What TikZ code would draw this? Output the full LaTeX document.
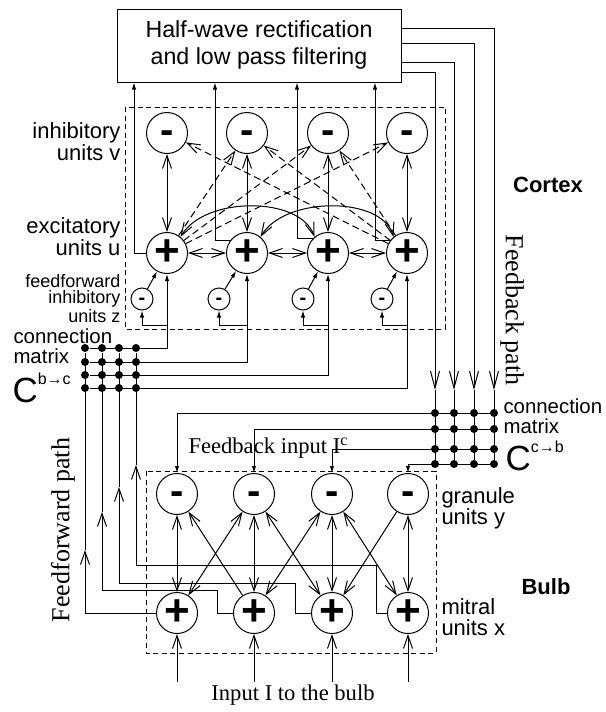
\documentclass[tikz,border=0pt]{standalone}
\usepackage{fontspec}
\setmainfont{Liberation Sans}
\newfontfamily\timesfont{Liberation Serif}
\usetikzlibrary{arrows.meta}

\tikzset{
  unit/.style={draw, circle, inner sep=0pt, minimum size=20.5pt},
  zunit/.style={draw, circle, inner sep=0pt, minimum size=11pt},
  dot/.style={circle, fill, inner sep=0pt, minimum size=4pt},
  dashbox/.style={dash pattern=on 2.5pt off 1.8pt},
  dashlink/.style={dash pattern=on 3.5pt off 2pt},
  fat/.style={-{Latex[length=3.5pt,width=2.2pt]}},
  longbarb/.style={-{Straight Barb[length=8.5pt,width=4.5pt]}},
  txt/.style={inner sep=0pt, font=\fontsize{11}{11}\selectfont},
  serif/.style={inner sep=0pt, font=\timesfont\fontsize{11.3}{11.3}\selectfont}
}
\newcommand{\unitplus}{{\fontsize{22}{22}\selectfont\bfseries +}}
\newcommand{\unitminus}{\smash{\raisebox{-5.2pt}{\fontsize{20}{20}\selectfont\bfseries -}}}
\newcommand{\zminus}{\smash{\raisebox{-2.6pt}{\fontsize{10}{10}\selectfont\bfseries -}}}

\begin{document}
\begin{tikzpicture}[x=0.5pt, y=-0.5pt, line width=0.5pt,
  >={Straight Barb[length=6.5pt,width=4.5pt]}]
\useasboundingbox (0,0) rectangle (605,712);

% filter box
\node[draw, minimum width=142pt, minimum height=36.5pt, align=center,
  font=\fontsize{11.6}{13.5}\selectfont] (filter) at (259,45.5)
  {Half-wave rectification\\and low pass filtering};

% cortex
\draw[dashbox] (125,107) rectangle (445,329);
\node[unit] (v1) at (167,133) {\unitminus};
\node[unit] (v2) at (247,133) {\unitminus};
\node[unit] (v3) at (328,133) {\unitminus};
\node[unit] (v4) at (407,133) {\unitminus};
\node[unit] (u1) at (167,253) {\unitplus};
\node[unit] (u2) at (247,253) {\unitplus};
\node[unit] (u3) at (328,253) {\unitplus};
\node[unit] (u4) at (407,253) {\unitplus};
\node[zunit] (z1) at (142,299) {\zminus};
\node[zunit] (z2) at (219,299) {\zminus};
\node[zunit] (z3) at (303,299) {\zminus};
\node[zunit] (z4) at (382,299) {\zminus};

\node[txt, anchor=north east, align=right] (vlabel) at (121,122) {inhibitory\\units v};
\node[txt, anchor=north east, align=right] (ulabel) at (121,217) {excitatory\\units u};
\node[txt, anchor=north east, align=right, font=\fontsize{9}{8}\selectfont] (zlabel) at (121,274) {feedforward\\inhibitory\\units z};
\node[txt, font=\fontsize{11}{11}\selectfont\bfseries] (cortex) at (548,185) {Cortex};
\node[serif, rotate=-90, font=\timesfont\fontsize{13}{13}\selectfont] (fbpath) at (512,310) {Feedback path};

\draw[<->] (v1) -- (u1);
\draw[<->] (v2) -- (u2);
\draw[<->] (v3) -- (u3);
\draw[<->] (v4) -- (u4);
\draw[<->] (u1) -- (u2);
\draw[<->] (u2) -- (u3);
\draw[<->] (u3) -- (u4);
\draw[<->] (u1.50) .. controls (205,196) and (300,196) .. (u3.130);
\draw[<->] (u2.50) .. controls (285,196) and (382,196) .. (u4.130);
\draw[->, dashlink] (u1) -- (v2);
\draw[->, dashlink] (u1) -- (v3);
\draw[->, dashlink] (u1) -- (v4);
\draw[->, dashlink] (u4) -- (v1);
\draw[->, dashlink] (u4) -- (v2);
\draw[->, dashlink] (u4) -- (v3);
\draw[fat] (z1) -- (u1);
\draw[fat] (z2) -- (u2);
\draw[fat] (z3) -- (u3);
\draw[fat] (z4) -- (u4);

% outputs to the filter
\draw[fat] (u1.west) -| (134,0 |- filter.south);
\draw[fat] (u2.145) -| (215,0 |- filter.south);
\draw[fat] (u3.135) -| (297,0 |- filter.south);
\draw[fat] (u4.145) -| (375,0 |- filter.south);

% connection matrix bulb to cortex
\foreach \r/\y in {1/348,2/362,3/375,4/388}
  \foreach \c/\x in {1/85,2/102,3/119,4/136}
    \node[dot] (bc\r\c) at (\x,\y) {};
\node[txt, anchor=north west, align=left, font=\fontsize{10.2}{10.2}\selectfont] (bclabel) at (13,328) {connection\\matrix};
\node[txt, anchor=base west] (bcname) at (12,402)
  {\fontsize{17.5}{17.5}\selectfont C\raisebox{9pt}{\fontsize{8}{8}\selectfont b→c}};

\coordinate (zsplit) at (0,325);
\draw[fat] (bc11) -| (u1.south);
\draw[fat] (bc21) -| (u2.south);
\draw[fat] (bc31) -| (u3.south);
\draw[fat] (bc41) -| (u4.south);
\draw[fat] (u1.south |- zsplit) -| (z1.south);
\draw[fat] (u2.south |- zsplit) -| (z2.south);
\draw[fat] (u3.south |- zsplit) -| (z3.south);
\draw[fat] (u4.south |- zsplit) -| (z4.south);

% feedback path
\coordinate (fb1) at (435,390);
\coordinate (fb2) at (454,390);
\coordinate (fb3) at (474,390);
\coordinate (fb4) at (494,390);
\foreach \r/\y in {1/413,2/429,3/449,4/464}
  \foreach \c/\x in {1/435,2/454,3/474,4/494}
    \node[dot] (cb\r\c) at (\x,\y) {};
\draw[longbarb] (filter.east |- 0,72) -| (fb1);
\draw[longbarb] (filter.east |- 0,62) -| (fb2);
\draw[longbarb] (filter.east |- 0,43) -| (fb3);
\draw[longbarb] (filter.east |- 0,28) -| (fb4);
\draw (fb1) -- (cb41);
\draw (fb2) -- (cb42);
\draw (fb3) -- (cb43);
\draw (fb4) -- (cb44);
\node[txt, anchor=north west, align=left, font=\fontsize{10.2}{10.2}\selectfont] (cblabel) at (503,398) {connection\\matrix};
\node[txt, anchor=base west] (cbname) at (505,470)
  {\fontsize{17.5}{17.5}\selectfont C\raisebox{9pt}{\fontsize{8}{8}\selectfont c→b}};
\node[serif, anchor=base west] (fbinput) at (188,453)
  {Feedback input I\raisebox{4pt}{\fontsize{8}{8}\selectfont c}};

% bulb
\draw[dashbox] (146,471) rectangle (436,653);
\node[unit] (g1) at (177,494) {\unitminus};
\node[unit] (g2) at (254,494) {\unitminus};
\node[unit] (g3) at (332,494) {\unitminus};
\node[unit] (g4) at (408,494) {\unitminus};
\node[unit] (m1) at (177,613) {\unitplus};
\node[unit] (m2) at (254,613) {\unitplus};
\node[unit] (m3) at (332,613) {\unitplus};
\node[unit] (m4) at (408,613) {\unitplus};
\node[txt, anchor=north west, align=left, font=\fontsize{11}{10.5}\selectfont] (glabel) at (441,487) {granule\\units y};
\node[txt, anchor=north west, align=left, font=\fontsize{11}{10.5}\selectfont] (mlabel) at (441,598) {mitral\\units x};
\node[txt, font=\fontsize{11}{11}\selectfont\bfseries] (bulb) at (546,587) {Bulb};

\draw[fat] (cb14) -| (g1.north);
\draw[fat] (cb24) -| (g2.north);
\draw[fat] (cb34) -| (g3.north);
\draw[fat] (cb44) -| (g4.north);

\draw[<->] (g1) -- (m1);
\draw[<->] (g2) -- (m2);
\draw[<->] (g3) -- (m3);
\draw[<->] (g4) -- (m4);
\draw[->] (m2) -- (g1);
\draw[<->] (g2) -- (m1);
\draw[<->] (g2) -- (m3);
\draw[<->] (g3) -- (m2);
\draw[<->] (g3) -- (m4);
\draw[->] (g4) -- (m3);

\coordinate (in1) at (177,682);
\coordinate (in2) at (254,682);
\coordinate (in3) at (332,682);
\coordinate (in4) at (408,682);
\draw[->] (in1) -- (m1);
\draw[->] (in2) -- (m2);
\draw[->] (in3) -- (m3);
\draw[->] (in4) -- (m4);
\node[serif, anchor=base] (input) at (293,700) {Input I to the bulb};

% feedforward path
\coordinate (ff1) at (85,550);
\coordinate (ff2) at (102,512);
\coordinate (ff3) at (119,487);
\coordinate (ff4) at (136,465);
\draw[->] (m1.west) -| (ff1);
\draw[->] (m2.west) -| (217,590) -| (ff2);
\draw[->] (m3.west) -| (295,583) -| (ff3);
\draw[->] (m4.west) -| (376,565) -| (ff4);
\draw (ff1) -- (bc11);
\draw (ff2) -- (bc12);
\draw (ff3) -- (bc13);
\draw (ff4) -- (bc14);
\node[serif, rotate=90, font=\timesfont\fontsize{13}{13}\selectfont] (ffpath) at (63,530) {Feedforward path};
\end{tikzpicture}
\end{document}
